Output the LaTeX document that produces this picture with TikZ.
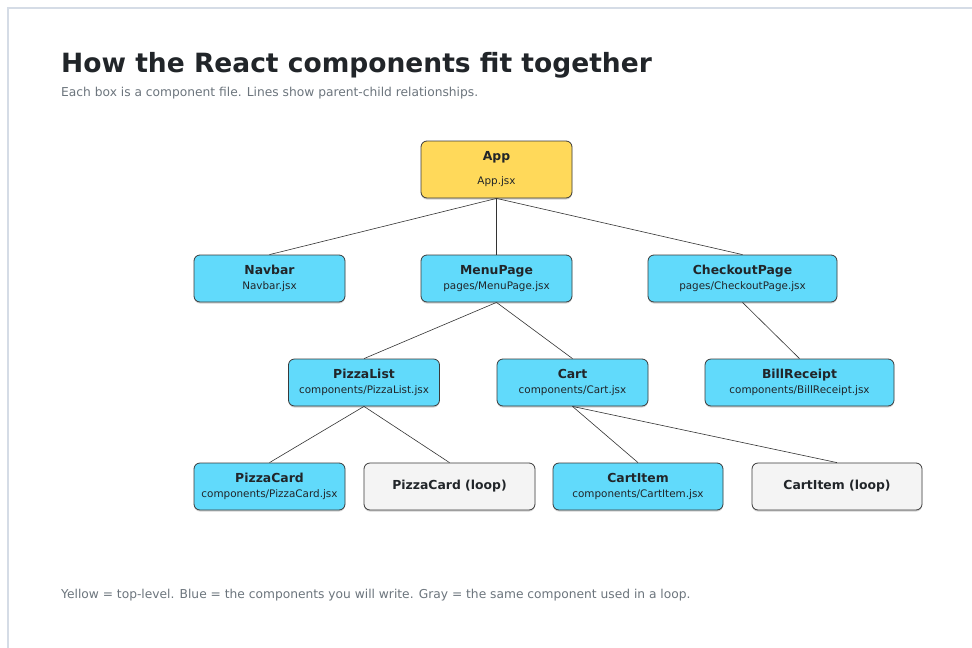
\documentclass[tikz,border=0pt]{standalone}
\usepackage{fontspec}
\setmainfont{DejaVu Sans}
\usetikzlibrary{calc,shapes}

\definecolor{appyellow}{HTML}{FFD95A}
\definecolor{reactblue}{HTML}{61DAFB}
\definecolor{loopgray}{HTML}{F4F4F4}
\definecolor{boxline}{HTML}{3A3A3A}
\definecolor{inktext}{HTML}{212529}
\definecolor{softtext}{HTML}{6C757D}
\definecolor{framecol}{HTML}{D5DCE6}

\tikzset{
  comp/.style={draw=boxline, line width=0.8pt, rounded corners=6pt, align=center,
    minimum height=47pt, inner sep=0pt, text=inktext,
    drop shadow={shadow xshift=0pt, shadow yshift=-1.5pt, fill=black!35, opacity=0.5}},
  blue/.style={comp, fill=reactblue},
  loopbox/.style={comp, fill=loopgray},
  edge/.style={draw=black!80, line width=0.6pt}
}
\newcommand{\nm}[1]{{\fontsize{12.4}{14}\selectfont\bfseries #1}}
\newcommand{\fl}[1]{{\fontsize{10.4}{12}\selectfont #1}}

\usetikzlibrary{shadows}

\begin{document}
\begin{tikzpicture}[x=1pt,y=-1pt]
    \useasboundingbox[fill=white] (0,0) rectangle (972,648);
    \draw[framecol, line width=1.5pt] (8,648) -- (8,8) -- (972,8);

    % heading
    \node[anchor=base west, inner sep=0pt, text=inktext] (title) at (61,72)
        {\fontsize{26.5}{30}\selectfont\bfseries How the React components fit together};
    \node[anchor=base west, inner sep=0pt, text=softtext] (subtitle) at (61,96)
        {\fontsize{12.25}{14}\selectfont Each box is a component file. Lines show parent-child relationships.};

    % components
    \node[comp, fill=appyellow, minimum width=151pt, minimum height=57pt] (app) at (496.5,169.5)
        {\nm{App}\\[12pt]\fl{App.jsx}};
    \node[blue, minimum width=151pt] (navbar) at (269.5,278.5) {\nm{Navbar}\\[3pt]\fl{Navbar.jsx}};
    \node[blue, minimum width=151pt] (menupage) at (496.5,278.5) {\nm{MenuPage}\\[3pt]\fl{pages/MenuPage.jsx}};
    \node[blue, minimum width=189pt] (checkout) at (742.5,278.5) {\nm{CheckoutPage}\\[3pt]\fl{pages/CheckoutPage.jsx}};
    \node[blue, minimum width=151pt] (pizzalist) at (364,382.5) {\nm{PizzaList}\\[3pt]\fl{components/PizzaList.jsx}};
    \node[blue, minimum width=151pt] (cart) at (572.5,382.5) {\nm{Cart}\\[3pt]\fl{components/Cart.jsx}};
    \node[blue, minimum width=189pt] (bill) at (799.5,382.5) {\nm{BillReceipt}\\[3pt]\fl{components/BillReceipt.jsx}};
    \node[blue, minimum width=151pt] (pizzacard) at (269.5,486.5) {\nm{PizzaCard}\\[3pt]\fl{components/PizzaCard.jsx}};
    \node[loopbox, minimum width=171pt] (pizzaloop) at (449.5,486.5) {\nm{PizzaCard (loop)}};
    \node[blue, minimum width=170pt] (cartitem) at (638,486.5) {\nm{CartItem}\\[3pt]\fl{components/CartItem.jsx}};
    \node[loopbox, minimum width=170pt] (cartloop) at (837,486.5) {\nm{CartItem (loop)}};

    % parent-child lines
    \foreach \p/\c in {app/navbar, app/menupage, app/checkout, menupage/pizzalist, menupage/cart,
        checkout/bill, pizzalist/pizzacard, pizzalist/pizzaloop, cart/cartitem, cart/cartloop}
        \draw[edge] (\p.south) -- (\c.north);

    \node[anchor=base west, inner sep=0pt, text=softtext] (note) at (61,598)
        {\fontsize{12.25}{14}\selectfont Yellow = top-level. Blue = the components you will write. Gray = the same component used in a loop.};
\end{tikzpicture}
\end{document}
